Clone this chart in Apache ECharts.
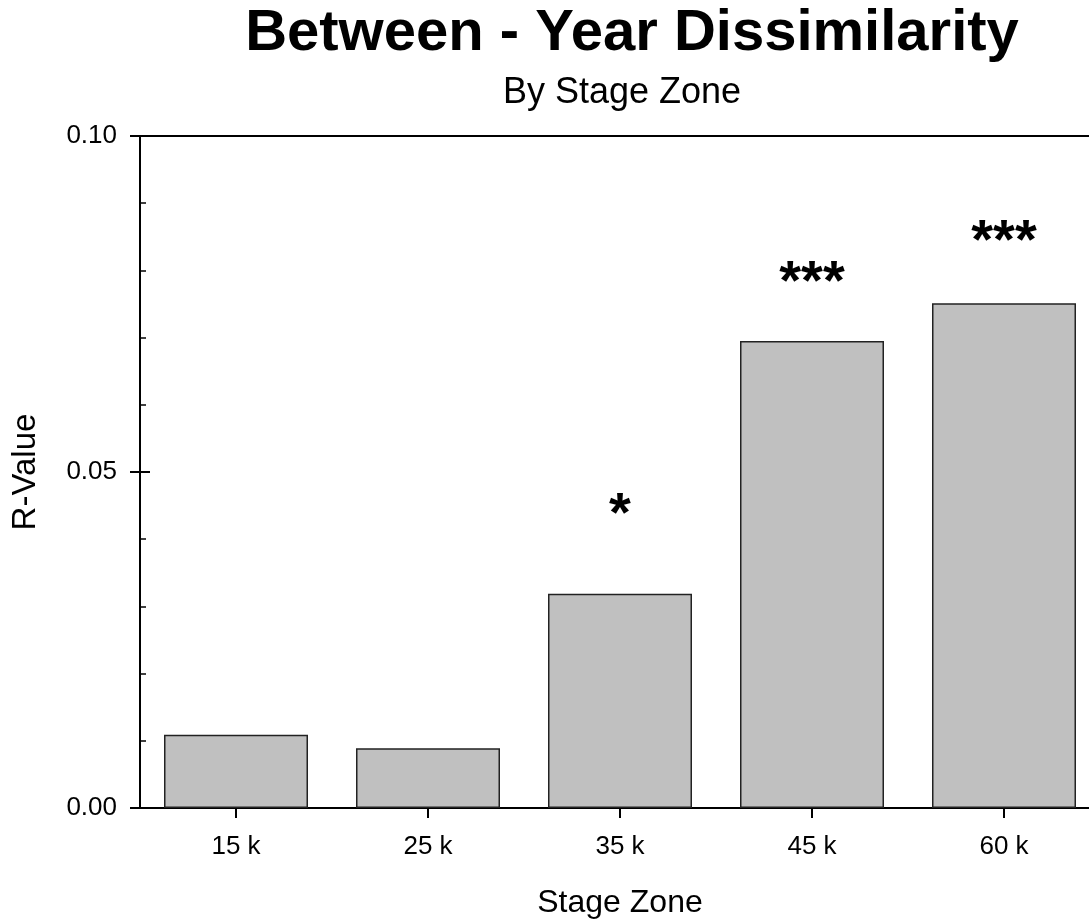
<!DOCTYPE html>
<html>
<head>
<meta charset="utf-8">
<title>Between - Year Dissimilarity</title>
<script src="https://cdn.jsdelivr.net/npm/echarts@6/dist/echarts.min.js"></script>
<style>
  html, body { margin: 0; padding: 0; background: #ffffff; overflow: hidden; }
  #chart { width: 1089px; height: 921px; }
</style>
</head>
<body>
<div id="chart"></div>
<script>
// Stage zones on the x axis
const zones = ['15 k', '25 k', '35 k', '45 k', '60 k'];
// R statistic for each zone
const rValues = [0.0109, 0.0089, 0.0319, 0.0695, 0.0751];
// Significance marks and the height at which each is written
const sigMarks = ['', '', '*', '***', '***'];
const sigHeights = [null, null, 0.0450, 0.0795, 0.0857];
// Y axis range
const yMin = 0, yMax = 0.10, yStep = 0.05;

const FONT = 'Liberation Sans, Arial, sans-serif';

const chart = echarts.init(document.getElementById('chart'), null, { renderer: 'canvas' });

// plot area runs a little past the right edge of the canvas
const grid = { left: 140, width: 960, top: 136, bottom: 113, show: true,
  outerBoundsMode: 'none', containLabel: false,
  borderColor: '#000', borderWidth: 2, backgroundColor: 'transparent' };

chart.setOption({
  animation: false,
  backgroundColor: '#ffffff',
  title: [
    { text: 'Between - Year Dissimilarity', left: 632, top: 5, padding: 0, textAlign: 'center',
      textStyle: { fontFamily: FONT, fontSize: 58, fontWeight: 'bold', color: '#000' } },
    { text: 'By Stage Zone', left: 622, top: 75, padding: 0, textAlign: 'center',
      textStyle: { fontFamily: FONT, fontSize: 36, fontWeight: 'normal', color: '#000' } }
  ],
  grid: grid,
  xAxis: {
    type: 'category',
    data: zones,
    boundaryGap: true,
    name: 'Stage Zone',
    nameLocation: 'middle',
    nameGap: 79,
    nameTextStyle: { fontFamily: FONT, fontSize: 32, color: '#000' },
    axisLine: { show: true, lineStyle: { color: '#000', width: 2 } },
    axisTick: { show: true, alignWithLabel: true, length: 10, lineStyle: { color: '#000', width: 2 } },
    axisLabel: { fontFamily: FONT, fontSize: 26, color: '#000', margin: 26 },
    splitLine: { show: false }
  },
  yAxis: [
    {
      type: 'value', min: yMin, max: yMax, interval: yStep, position: 'left',
      name: 'R-Value', nameLocation: 'middle', nameGap: 98, nameRotate: 90,
      nameTextStyle: { fontFamily: FONT, fontSize: 33, color: '#000' },
      axisLine: { show: true, lineStyle: { color: '#000', width: 2 } },
      axisTick: { show: true, length: 10, lineStyle: { color: '#000', width: 2 } },
      axisLabel: { fontFamily: FONT, fontSize: 26, color: '#000', margin: 23,
        formatter: v => v.toFixed(2) },
      splitLine: { show: false }
    },
    {
      // inner half of the major ticks plus the minor ticks
      type: 'value', min: yMin, max: yMax, interval: yStep, position: 'left', offset: 0,
      axisLine: { show: false },
      axisTick: { show: true, inside: true, length: 10, lineStyle: { color: '#000', width: 2 } },
      minorTick: { show: true, splitNumber: 5, length: 6, lineStyle: { color: '#000', width: 1.5 } },
      axisLabel: { show: false },
      splitLine: { show: false }
    }
  ],
  series: [
    {
      type: 'bar',
      data: rValues,
      barWidth: '75%',
      itemStyle: { color: '#c0c0c0', borderColor: '#222', borderWidth: 1.5 },
      z: 2
    },
    {
      type: 'scatter',
      data: sigHeights,
      symbol: 'circle',
      symbolSize: 1,
      itemStyle: { color: 'rgba(0,0,0,0)' },
      label: {
        show: true, position: 'inside',
        formatter: p => sigMarks[p.dataIndex],
        fontFamily: FONT, fontSize: 56, fontWeight: 'bold', color: '#000',
        textBorderWidth: 0, opacity: 1,
        offset: [0, 10]
      },
      emphasis: { disabled: true },
      z: 3
    }
  ]
});
</script>
</body>
</html>
